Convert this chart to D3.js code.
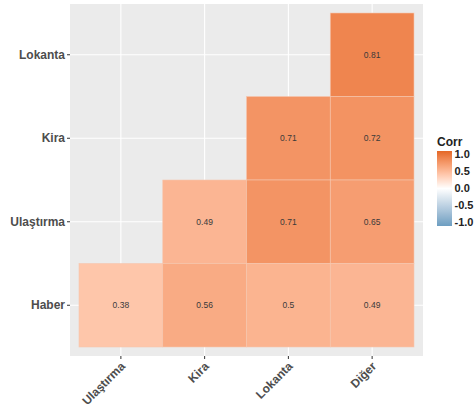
<!DOCTYPE html>
<html>
<head>
<meta charset="utf-8">
<script src="https://cdn.jsdelivr.net/npm/d3@7"></script>
<style>
  html, body { margin: 0; padding: 0; background: #fff; overflow: hidden; }
  svg { display: block; font-family: "Liberation Sans", Arial, Helvetica, sans-serif; }
</style>
</head>
<body>
<svg id="chart" width="474" height="408"></svg>
<script>
// Variables along each axis
const xVars = ["Ulaştırma", "Kira", "Lokanta", "Diğer"];
const yVars = ["Haber", "Ulaştırma", "Kira", "Lokanta"];

// Lower-triangle correlation cells
const cellX = ["Diğer", "Lokanta", "Diğer", "Kira", "Lokanta", "Diğer", "Ulaştırma", "Kira", "Lokanta", "Diğer"];
const cellY = ["Lokanta", "Kira", "Kira", "Ulaştırma", "Ulaştırma", "Ulaştırma", "Haber", "Haber", "Haber", "Haber"];
const cellR = [0.81, 0.71, 0.72, 0.49, 0.71, 0.65, 0.38, 0.56, 0.5, 0.49];

// Legend ticks
const legendTicks = [1.0, 0.5, 0.0, -0.5, -1.0];
const legendLabels = ["1.0", "0.5", "0.0", "-0.5", "-1.0"];

const svg = d3.select("#chart");

const panel = { left: 70, right: 423, top: 4, bottom: 356 };
const inner = 9; // expansion inside the panel

const x = d3.scaleBand().domain(xVars)
  .range([panel.left + inner, panel.right - inner]);
const y = d3.scaleBand().domain(yVars)
  .range([panel.bottom - inner, panel.top + inner]);

const lowColor = "#6D9EC1", midColor = "#FFFFFF", highColor = "#E46726";
const color = d3.scaleLinear()
  .domain([-1, 0, 1])
  .range([lowColor, midColor, highColor])
  .interpolate(d3.interpolateLab)
  .clamp(true);

// Panel background and grid
svg.append("rect")
  .attr("x", panel.left).attr("y", panel.top)
  .attr("width", panel.right - panel.left)
  .attr("height", panel.bottom - panel.top)
  .attr("fill", "#EBEBEB");

const grid = svg.append("g");
xVars.forEach(v => {
  const cx = x(v) + x.bandwidth() / 2;
  grid.append("line")
    .attr("x1", cx).attr("x2", cx)
    .attr("y1", panel.top).attr("y2", panel.bottom)
    .attr("stroke", "#fff").attr("stroke-width", 1.1);
});
yVars.forEach(v => {
  const cy = y(v) + y.bandwidth() / 2;
  grid.append("line")
    .attr("x1", panel.left).attr("x2", panel.right)
    .attr("y1", cy).attr("y2", cy)
    .attr("stroke", "#fff").attr("stroke-width", 1.1);
});

// Tiles
const cells = cellR.map((r, i) => ({ x: cellX[i], y: cellY[i], r }));
const tiles = svg.append("g");
tiles.selectAll("rect").data(cells).join("rect")
  .attr("x", d => x(d.x))
  .attr("y", d => y(d.y))
  .attr("width", x.bandwidth())
  .attr("height", y.bandwidth())
  .attr("fill", d => color(d.r))
  .attr("stroke", "#F6C7B0")
  .attr("stroke-width", 0.6);

tiles.selectAll("text").data(cells).join("text")
  .attr("x", d => x(d.x) + x.bandwidth() / 2)
  .attr("y", d => y(d.y) + y.bandwidth() / 2)
  .attr("dy", "0.35em")
  .attr("text-anchor", "middle")
  .attr("font-size", 8.5)
  .attr("fill", "#3a3a3a")
  .text(d => d.r);

// Axes
const yAxis = svg.append("g")
  .attr("transform", `translate(${panel.left},0)`)
  .call(d3.axisLeft(y).tickSize(3).tickPadding(2));
const xAxis = svg.append("g")
  .attr("transform", `translate(0,${panel.bottom})`)
  .call(d3.axisBottom(x).tickSize(3).tickPadding(2));

[xAxis, yAxis].forEach(a => {
  a.select(".domain").remove();
  a.selectAll(".tick line").attr("stroke", "#333").attr("stroke-width", 1);
  a.selectAll(".tick text")
    .attr("fill", "#4D4D4D")
    .attr("font-size", 12)
    .attr("font-weight", "bold")
    .attr("font-family", "'Liberation Sans', Arial, sans-serif");
});

xAxis.selectAll(".tick text")
  .attr("text-anchor", "end")
  .attr("dy", null)
  .attr("y", 0)
  .attr("transform", "translate(5,11) rotate(-45)");

// Legend
const legend = svg.append("g");
legend.append("text")
  .attr("x", 437).attr("y", 146)
  .attr("font-size", 12).attr("font-weight", "bold")
  .attr("fill", "#222")
  .text("Corr");

const barTop = 151, barBottom = 226, barX = 437, barW = 15;
const grad = svg.append("defs").append("linearGradient")
  .attr("id", "corrGrad")
  .attr("x1", 0).attr("x2", 0).attr("y1", 0).attr("y2", 1);
d3.range(0, 21).forEach(i => {
  const v = 1 - i / 10;
  grad.append("stop")
    .attr("offset", (i / 20 * 100) + "%")
    .attr("stop-color", color(v));
});
legend.append("rect")
  .attr("x", barX).attr("y", barTop)
  .attr("width", barW).attr("height", barBottom - barTop)
  .attr("fill", "url(#corrGrad)");

const ly = d3.scaleLinear().domain([1, -1]).range([barTop + 3.5, barBottom - 3.5]);
legend.selectAll("text.lab").data(legendTicks).join("text")
  .attr("class", "lab")
  .attr("x", barX + barW + 2.5)
  .attr("y", d => ly(d))
  .attr("dy", "0.35em")
  .attr("font-size", 11).attr("font-weight", "bold")
  .attr("fill", "#222")
  .text((d, i) => legendLabels[i]);
</script>
</body>
</html>
